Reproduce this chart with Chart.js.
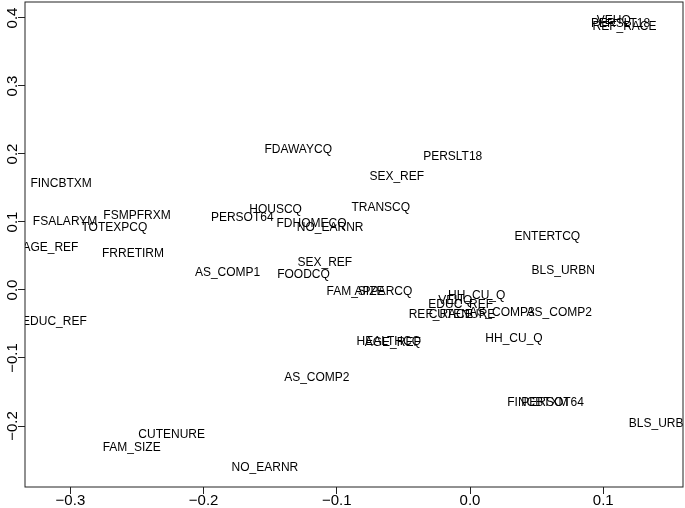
<!DOCTYPE html>
<html>
<head>
<meta charset="utf-8">
<script src="https://cdn.jsdelivr.net/npm/chart.js@4"></script>
<style>
  html, body { margin: 0; padding: 0; background: #fff; }
</style>
</head>
<body>
<canvas id="myChart" width="685" height="508"></canvas>
<script>
// variable labels and their coordinates on the two dimensions
const varNames = [
  'FINCBTXM', 'FSALARYM', 'TOTEXPCQ', 'FSMPFRXM', 'AGE_REF', 'EDUC_REF', 'FRRETIRM',
  'AS_COMP1', 'PERSOT64', 'HOUSCQ', 'FDAWAYCQ', 'FDHOMECQ', 'NO_EARNR', 'SEX_REF',
  'PERSLT18', 'TRANSCQ', 'SEX_REF', 'FOODCQ', 'FAM_SIZE', 'APPARCQ', 'ENTERTCQ',
  'BLS_URBN', 'HH_CU_Q', 'VEHQ', 'EDUC_REF', 'REF_RACE', 'CUTENURE', 'AS_COMP3',
  'AS_COMP2', 'HH_CU_Q', 'HEALTHCQ', 'AGE_REF', 'AS_COMP2', 'FINCBTXM', 'PERSOT64',
  'BLS_URBN', 'CUTENURE', 'FAM_SIZE', 'NO_EARNR', 'VEHQ', 'PERSLT18', 'REF_RACE'
];
const dim1 = [
  -0.307, -0.304, -0.267, -0.250, -0.315, -0.312, -0.253,
  -0.182, -0.171, -0.146, -0.129, -0.119, -0.105, -0.055,
  -0.013, -0.067, -0.109, -0.125, -0.086, -0.065, 0.058,
  0.070, 0.005, -0.011, -0.007, -0.022, -0.006, 0.024,
  0.067, 0.033, -0.061, -0.058, -0.115, 0.051, 0.062,
  0.143, -0.224, -0.254, -0.154, 0.108, 0.113, 0.116
];
const dim2 = [
  0.157, 0.100, 0.091, 0.109, 0.062, -0.047, 0.054,
  0.026, 0.106, 0.118, 0.207, 0.097, 0.091, 0.166,
  0.196, 0.121, 0.040, 0.022, -0.003, -0.003, 0.079,
  0.029, -0.009, -0.016, -0.022, -0.037, -0.037, -0.034,
  -0.034, -0.071, -0.076, -0.078, -0.129, -0.166, -0.166,
  -0.197, -0.213, -0.232, -0.262, 0.396, 0.391, 0.387
];
const xTicks = [-0.3, -0.2, -0.1, 0.0, 0.1];
const yTicks = [-0.2, -0.1, 0.0, 0.1, 0.2, 0.3, 0.4];

const FONT = '"Liberation Sans", Arial, Helvetica, sans-serif';

function fmt(v) {
  if (Math.abs(v) < 1e-9) return '0.0';
  return (v < 0 ? '\u2212' : '') + Math.abs(v).toFixed(1);
}

// draws the text labels, the box and the rotated y tick labels
const textLabels = {
  id: 'textLabels',
  afterDatasetsDraw(chart) {
    const ctx = chart.ctx;
    const a = chart.chartArea;
    ctx.save();
    ctx.beginPath();
    ctx.rect(a.left, a.top, a.right - a.left, a.bottom - a.top);
    ctx.clip();
    ctx.font = '12px ' + FONT;
    ctx.fillStyle = '#000';
    ctx.textAlign = 'center';
    ctx.textBaseline = 'middle';
    chart.getDatasetMeta(0).data.forEach((pt, i) => {
      ctx.fillText(varNames[i], pt.x, pt.y);
    });
    ctx.restore();

    ctx.save();
    ctx.strokeStyle = '#222';
    ctx.lineWidth = 1;
    ctx.strokeRect(a.left, a.top, a.right - a.left, a.bottom - a.top);
    ctx.restore();

    const ys = chart.scales.y;
    ctx.save();
    ctx.font = '15px ' + FONT;
    ctx.fillStyle = '#000';
    ctx.textAlign = 'center';
    ctx.textBaseline = 'middle';
    ys.ticks.forEach(t => {
      const py = ys.getPixelForValue(t.value);
      ctx.save();
      ctx.translate(13, py);
      ctx.rotate(-Math.PI / 2);
      ctx.fillText(fmt(t.value), 0, 0);
      ctx.restore();
    });
    ctx.restore();
  }
};

const ctx = document.getElementById('myChart').getContext('2d');
const myChart = new Chart(ctx, {
  type: 'scatter',
  data: {
    datasets: [{
      data: dim1.map((x, i) => ({ x: x, y: dim2[i] })),
      pointRadius: 0,
      pointHoverRadius: 0
    }]
  },
  options: {
    responsive: false,
    animation: false,
    layout: { padding: { top: 2, right: 2, left: 0, bottom: 0 } },
    plugins: { legend: { display: false }, tooltip: { enabled: false } },
    scales: {
      x: {
        min: -0.3341,
        max: 0.1599,
        afterBuildTicks: s => { s.ticks = xTicks.map(v => ({ value: v })); },
        afterFit: s => { s.height = 21; },
        border: { display: false },
        grid: { drawOnChartArea: false, drawTicks: true, tickLength: 7, color: '#222' },
        ticks: {
          font: { family: FONT, size: 15 },
          color: '#000',
          padding: -2,
          maxRotation: 0,
          callback: v => fmt(v)
        }
      },
      y: {
        min: -0.2897,
        max: 0.4235,
        afterBuildTicks: s => { s.ticks = yTicks.map(v => ({ value: v })); },
        afterFit: s => { s.width = 25; },
        border: { display: false },
        grid: { drawOnChartArea: false, drawTicks: true, tickLength: 7, color: '#222' },
        ticks: { display: false }
      }
    }
  },
  plugins: [textLabels]
});
</script>
</body>
</html>
